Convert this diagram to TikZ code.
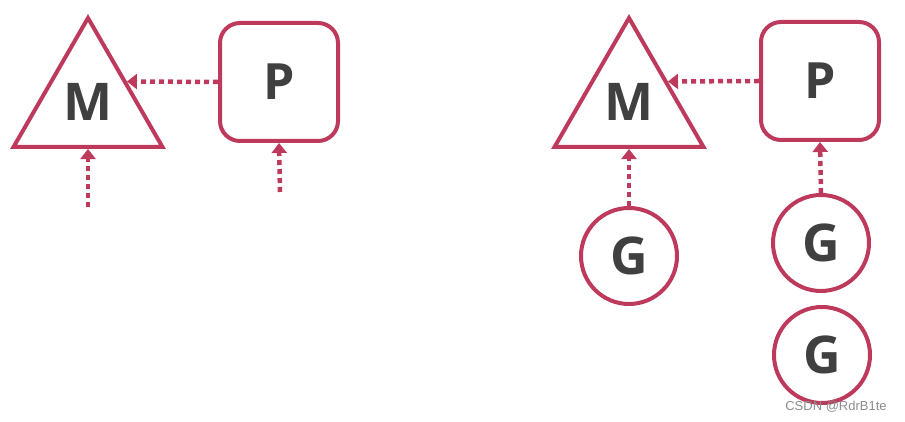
\documentclass[tikz,border=0pt]{standalone}
\usepackage{fontspec}
\setmainfont{Open Sans}
\newfontfamily\markfont{Liberation Sans}
\usetikzlibrary{shapes.geometric,arrows.meta,calc}
\definecolor{myred}{RGB}{190, 58, 93}
\definecolor{mygray}{RGB}{64, 64, 64}

\begin{document}
\begin{tikzpicture}[x=1pt,y=1pt]

\tikzstyle{machine} = [draw=myred, line width=4, regular polygon, regular polygon sides=3,
    minimum size=172, inner sep=0, text=mygray,
    font=\fontsize{52}{60}\selectfont\bfseries]
\tikzstyle{proc} = [draw=myred, line width=4, rectangle, rounded corners=20,
    minimum size=118, inner sep=0, text=mygray,
    font=\fontsize{50}{60}\selectfont\bfseries]
\tikzstyle{gor} = [draw=myred, line width=4, circle, minimum size=96,
    inner sep=0, text=mygray, font=\fontsize{52}{60}\selectfont\bfseries]
\tikzstyle{link} = [draw=myred, line width=4.5, dash pattern=on 5 off 4,
    -{Triangle[width=15,length=10]}]

\useasboundingbox (0,0) rectangle (905,422);

% =========================
% left: M and P, nothing attached
% =========================
\node[machine] (m1) at (88,318) {};
\node[text=mygray, font=\fontsize{52}{60}\selectfont\bfseries] (m1label) at (88,320) {M};
\node[proc] (p1) at (279,340) {P};

\coordinate (m1free) at (88,215);
\coordinate (p1free) at (280,230);

\draw[link] (p1.west) -- (m1.side 3);
\draw[link] (m1free) -- (m1.south);
\draw[link] (p1free) -- (p1.south);

% =========================
% right: M and P with goroutines
% =========================
\node[machine] (m2) at (629,318) {};
\node[text=mygray, font=\fontsize{52}{60}\selectfont\bfseries] (m2label) at (629,320) {M};
\node[proc] (p2) at (820,341) {P};

\node[gor] (g1) at (629,166) {G};
\node[gor] (g2) at (821,179) {G};
\node[gor] (g3) at (822,67) {G};

\draw[link] (p2.west) -- (m2.side 3);
\draw[link] (g1.north) -- (m2.south);
\draw[link] (g2.north) -- (p2.south);

% watermark
\node[text=black!45, font=\markfont\fontsize{13}{15}\selectfont] (mark) at (836,15) {CSDN @RdrB1te};

\end{tikzpicture}
\end{document}
